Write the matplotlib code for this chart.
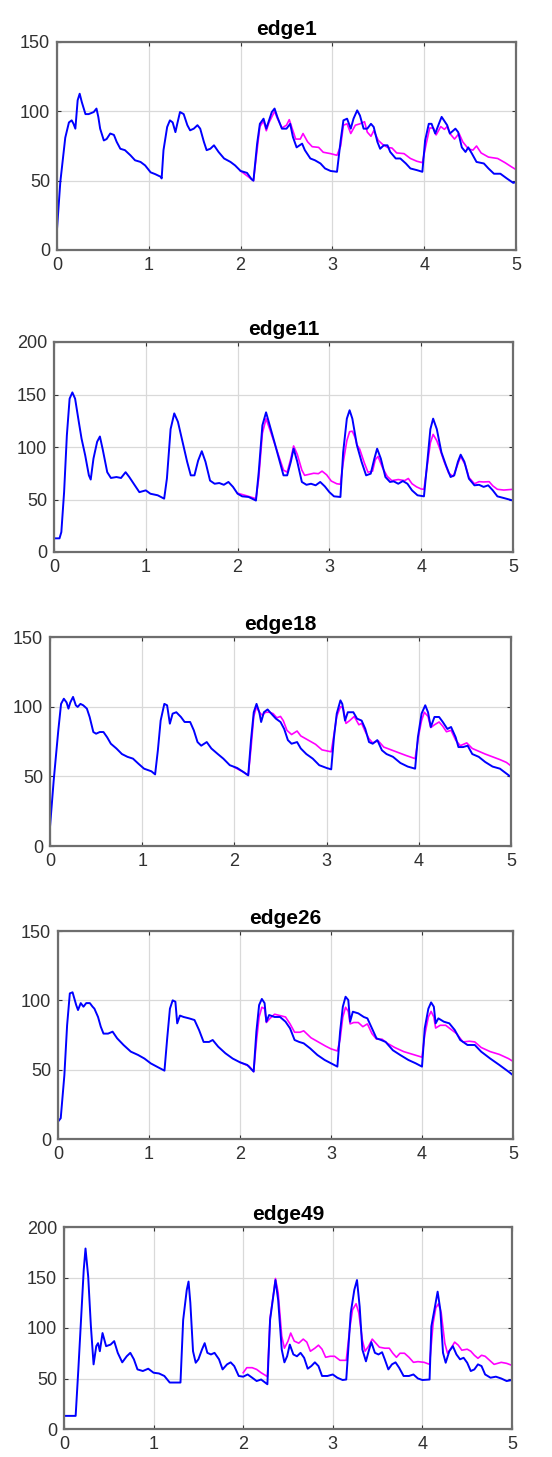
import matplotlib.pyplot as plt

plt.rcParams['font.family'] = ['Liberation Sans', 'DejaVu Sans']

# --- edge1 ---
e1_bx = [0, 0.036, 0.09, 0.13, 0.16, 0.18, 0.2, 0.225, 0.247, 0.27, 0.31, 0.345, 0.4, 0.43, 0.45, 0.47,
         0.51, 0.54, 0.58, 0.62, 0.65, 0.69, 0.74, 0.8, 0.85, 0.91, 0.96, 1.02, 1.07, 1.13, 1.14,
         1.16, 1.2, 1.23, 1.26, 1.29, 1.31, 1.34, 1.38, 1.42, 1.45, 1.49, 1.53, 1.56, 1.6, 1.63, 1.67,
         1.71, 1.76, 1.82, 1.89, 1.94, 2.0, 2.07, 2.12, 2.14,
         2.18, 2.21, 2.25, 2.28, 2.31, 2.34, 2.37, 2.4, 2.45, 2.5, 2.54, 2.57, 2.61, 2.67, 2.7, 2.76,
         2.81, 2.87, 2.92, 2.98, 3.05,
         3.09, 3.12, 3.16, 3.2, 3.23, 3.27, 3.3, 3.34, 3.38, 3.42, 3.45, 3.49, 3.52, 3.56, 3.6, 3.63,
         3.69, 3.74, 3.8, 3.85, 3.92, 3.98,
         4.01, 4.05, 4.08, 4.12, 4.16, 4.19, 4.25, 4.28, 4.34, 4.37, 4.41, 4.45, 4.48, 4.52, 4.57,
         4.65, 4.7, 4.76, 4.83, 4.9, 4.97, 5.0]
e1_by = [15, 49, 81, 92, 93.5, 91, 87.5, 108, 112.7, 106.7, 98, 98, 99.5, 102, 96, 87.5,
         79, 80, 84, 83, 78, 73, 72, 68.3, 64.7, 63.5, 61, 56, 54.7, 52.8, 51.6,
         72, 88.7, 93.5, 92, 85, 91, 99.5, 98, 90, 86.3, 87.5, 90, 87.5, 78, 72, 73,
         75.5, 70.7, 66, 63.5, 61, 57, 55.6, 51, 50,
         76.7, 91, 94.7, 87.5, 93.5, 99.5, 102, 96, 87.5, 87.5, 91, 81.5, 74, 76.7, 72, 66,
         64.7, 62.4, 58.8, 57, 56.4,
         79, 93.5, 94.7, 87.5, 94.7, 100.7, 97, 87.5, 87.5, 91, 88.7, 78, 73, 75.5, 75.5, 70.7,
         66, 66, 62.4, 58.8, 57.6, 56.4,
         79, 91, 91, 84, 91, 96, 90, 84, 87.5, 85, 74, 70.7, 74, 69.5, 63.5,
         62.4, 58.8, 55, 55, 51.6, 48.4, 49]
e1_mx = [2.0, 2.12, 2.14, 2.21, 2.25, 2.28, 2.31, 2.37, 2.4, 2.45, 2.5, 2.53, 2.57, 2.6, 2.65, 2.68,
         2.73, 2.78, 2.85, 2.9, 2.98, 3.05,
         3.09, 3.12, 3.16, 3.2, 3.25, 3.3, 3.35, 3.38, 3.42, 3.45, 3.5, 3.55, 3.6, 3.65, 3.7, 3.78,
         3.85, 3.92, 3.98,
         4.02, 4.06, 4.1, 4.13, 4.18, 4.22, 4.25, 4.28, 4.33, 4.38, 4.42, 4.48, 4.53, 4.57, 4.62,
         4.7, 4.8, 4.88, 4.95, 5.0]
e1_my = [57, 51, 50, 89, 93, 86, 92, 100, 95, 88, 90, 94, 86, 80, 80, 84,
         78, 74.5, 74, 70.5, 69.5, 68.3,
         75, 90, 91, 84, 90, 91, 92.5, 85, 82, 86, 79, 76, 74, 73.5, 70, 69.5,
         66, 64, 63,
         76, 88, 88, 83, 89, 87, 89, 84, 80, 84, 78, 73, 72, 75, 70,
         67, 66, 63, 60, 58]

# --- edge11 ---
e11_bx = [0, 0.06, 0.08, 0.11, 0.14, 0.17, 0.2, 0.23, 0.27, 0.3, 0.34, 0.38, 0.4, 0.43, 0.47, 0.5,
          0.53, 0.58, 0.62, 0.68, 0.73, 0.78, 0.82, 0.88, 0.93, 1.0, 1.05, 1.13, 1.2,
          1.23, 1.27, 1.31, 1.35, 1.4, 1.45, 1.49, 1.53, 1.57, 1.61, 1.65, 1.7, 1.75, 1.8, 1.85,
          1.9, 1.95, 2.0, 2.05, 2.12, 2.2,
          2.23, 2.27, 2.31, 2.35, 2.4, 2.45, 2.5, 2.54, 2.58, 2.61, 2.65, 2.7, 2.75, 2.8, 2.85,
          2.9, 2.95, 3.0, 3.05, 3.12,
          3.15, 3.19, 3.22, 3.25, 3.3, 3.35, 3.4, 3.45, 3.49, 3.52, 3.56, 3.61, 3.66, 3.7, 3.75,
          3.8, 3.85, 3.9, 3.96, 4.03,
          4.07, 4.1, 4.13, 4.17, 4.22, 4.27, 4.32, 4.36, 4.4, 4.43, 4.47, 4.52, 4.58, 4.63, 4.68,
          4.73, 4.78, 4.83, 4.9, 5.0]
e11_by = [13, 13, 19, 57, 111, 146, 152, 146, 124, 108, 92, 73, 69, 89, 105, 110,
          98, 76, 70.5, 71.4, 70.5, 76, 71.4, 63.5, 57, 58.7, 55.5, 54, 50.8,
          70, 117, 132, 124, 105, 86, 73, 73, 87, 96, 86, 68, 65, 65.7, 64,
          66.7, 62, 55.5, 53, 52.4, 49,
          76, 120.6, 133, 120.6, 105, 89, 73, 73, 86, 98.4, 86, 66.7, 64, 65, 63.5,
          66.7, 62.5, 57, 53, 52.4,
          95, 127, 135, 127, 101.6, 86, 73, 74.6, 89, 98.4, 89, 71.4, 66.7, 67.3, 65,
          67.6, 65, 58.7, 54, 53,
          89, 117, 127, 117, 95, 82.5, 71.4, 73, 86, 92.7, 86, 69.8, 63.5, 64, 62,
          63.5, 58.7, 53, 51.4, 49]
e11_mx = [2.0, 2.1, 2.2, 2.23, 2.27, 2.31, 2.35, 2.4, 2.45, 2.5, 2.54, 2.58, 2.61, 2.65, 2.7, 2.73,
          2.78, 2.83, 2.88, 2.92, 2.97, 3.02, 3.08, 3.12,
          3.15, 3.19, 3.22, 3.25, 3.28, 3.3, 3.33, 3.38, 3.42, 3.47, 3.5, 3.53, 3.58, 3.63, 3.68,
          3.75, 3.82, 3.86, 3.9, 3.95, 4.0, 4.03,
          4.07, 4.1, 4.13, 4.17, 4.2, 4.25, 4.3, 4.35, 4.4, 4.43, 4.48, 4.52, 4.58, 4.63, 4.68,
          4.74, 4.78, 4.83, 4.9, 5.0]
e11_my = [56, 53.5, 50.8, 70, 113, 127, 117, 104, 91, 78, 76, 89, 101, 93, 78, 73,
          74, 75, 74.6, 77, 73.5, 67.6, 65, 64.5,
          85, 106, 114.6, 115, 109, 102, 98, 85, 76, 77, 88, 91, 80, 72, 68,
          69, 68, 70, 65, 62, 60, 59.7,
          85, 104, 112, 106, 99, 86, 75, 72, 84, 91, 83, 71, 65, 67, 66.7,
          67, 63, 59.7, 59, 59.7]

# --- edge18 ---
e18_bx = [0, 0.04, 0.09, 0.12, 0.15, 0.18, 0.2, 0.22, 0.25, 0.28, 0.3, 0.33, 0.36, 0.4, 0.43, 0.47,
          0.5, 0.54, 0.58, 0.62, 0.66, 0.72, 0.78, 0.84, 0.9, 0.96, 1.02, 1.1, 1.14,
          1.17, 1.2, 1.24, 1.27, 1.3, 1.33, 1.37, 1.42, 1.46, 1.52, 1.56, 1.6, 1.64, 1.7, 1.75,
          1.82, 1.88, 1.95, 2.03, 2.1, 2.15,
          2.18, 2.21, 2.24, 2.27, 2.29, 2.32, 2.36, 2.4, 2.45, 2.5, 2.54, 2.58, 2.62, 2.68, 2.72,
          2.78, 2.85, 2.92, 3.0, 3.05,
          3.08, 3.11, 3.15, 3.17, 3.2, 3.23, 3.29, 3.33, 3.38, 3.42, 3.46, 3.5, 3.55, 3.6, 3.65,
          3.72, 3.8, 3.88, 3.96,
          3.99, 4.03, 4.07, 4.1, 4.13, 4.17, 4.22, 4.26, 4.31, 4.35, 4.4, 4.43, 4.48, 4.53, 4.58,
          4.65, 4.72, 4.8, 4.88, 4.95, 5.0]
e18_by = [13.6, 47, 83, 102, 105.7, 103, 98.6, 103, 107, 101, 99.8, 102, 101, 98.6, 92.6, 81.8,
          80.6, 81.8, 81.8, 78, 73.4, 70, 66, 64, 62.7, 59, 55.5, 53.6, 51.4,
          68.7, 90, 102, 101, 87.8, 95, 96, 92.6, 89, 89, 83, 74.6, 72, 74.6, 70,
          66, 62.7, 58, 56, 53, 50.7,
          76, 96, 102, 96, 89, 96, 98, 95, 91.4, 89, 84, 76, 73.4, 74.6, 70,
          66, 62.7, 58, 56, 55,
          78, 95, 104.5, 102, 90, 96, 96, 91.4, 90, 84, 74.6, 73.4, 76, 68.7, 66,
          64, 59.6, 57, 55.5,
          78, 95, 101, 96, 85.4, 92.6, 92.6, 89, 84, 85.4, 78, 71, 71, 72, 66,
          64, 60.3, 57, 55.5, 52, 49.5]
e18_mx = [2.0, 2.1, 2.15, 2.18, 2.21, 2.24, 2.27, 2.3, 2.34, 2.38, 2.42, 2.46, 2.5, 2.53, 2.57,
          2.62, 2.68, 2.72, 2.8, 2.88, 2.95, 3.05,
          3.08, 3.11, 3.15, 3.18, 3.21, 3.25, 3.3, 3.35, 3.38, 3.42, 3.46, 3.5, 3.56, 3.62, 3.7,
          3.78, 3.86, 3.96,
          4.0, 4.03, 4.06, 4.1, 4.13, 4.17, 4.22, 4.26, 4.3, 4.35, 4.4, 4.45, 4.52, 4.58, 4.65,
          4.72, 4.8, 4.88, 4.95, 5.0]
e18_my = [56.5, 53, 50.7, 70, 93, 100, 96, 94, 96, 96, 95, 92, 93, 90, 83,
          80, 82.5, 79, 76, 73, 69, 67.6,
          80, 93, 100, 99, 88, 90, 93, 87, 88, 82, 77, 74, 75.5, 71, 69,
          67, 65, 62.7,
          80, 90, 96, 93, 85, 87, 89, 86, 82, 83, 76, 72, 74, 70, 68,
          66, 64, 62, 60, 57.5]

# --- edge26 ---
e26_bx = [0, 0.03, 0.07, 0.1, 0.13, 0.16, 0.2, 0.22, 0.25, 0.28, 0.31, 0.35, 0.38, 0.4, 0.44, 0.47,
          0.5, 0.55, 0.6, 0.65, 0.72, 0.8, 0.88, 0.95, 1.02, 1.1, 1.17,
          1.2, 1.23, 1.26, 1.29, 1.31, 1.34, 1.38, 1.44, 1.5, 1.55, 1.6, 1.66, 1.7, 1.76, 1.84,
          1.92, 2.0, 2.08, 2.15,
          2.18, 2.21, 2.24, 2.27, 2.29, 2.32, 2.38, 2.44, 2.5, 2.55, 2.6, 2.65, 2.7, 2.77, 2.85,
          2.93, 3.0, 3.07,
          3.1, 3.13, 3.16, 3.19, 3.21, 3.24, 3.3, 3.36, 3.4, 3.45, 3.5, 3.55, 3.6, 3.68, 3.76,
          3.85, 3.93, 4.0,
          4.03, 4.07, 4.1, 4.13, 4.15, 4.18, 4.24, 4.3, 4.36, 4.42, 4.5, 4.58, 4.65, 4.75, 4.85,
          4.95, 5.0]
e26_by = [12.5, 15, 46, 82, 105, 105.8, 96.6, 93, 98, 95.4, 98, 98, 95.4, 94, 88, 81,
          76, 76, 77.4, 72.6, 67.8, 63, 60.6, 58, 54.5, 51.7, 49.3,
          72.6, 94, 100, 99, 83.4, 89, 88, 87, 85.8, 78.6, 70, 70, 71.4, 66.6, 61.8,
          58, 55.3, 53.4, 48.6,
          77.4, 96.6, 101, 98, 84.6, 89.4, 88, 88, 84.6, 79.8, 71.4, 70, 69, 65.4, 60.6,
          57, 54.6, 52.2,
          77.4, 95.4, 102.6, 100.2, 84.6, 91.8, 90.6, 88, 87, 79.8, 72.6, 71.4, 70, 64, 60.6,
          57, 54.6, 52.2,
          79.8, 94, 98.5, 95.4, 83.4, 87, 84.6, 83.4, 78.6, 71.4, 67.8, 67.8, 63, 58, 53.4,
          48.6, 46]
e26_mx = [2.0, 2.1, 2.15, 2.18, 2.21, 2.24, 2.27, 2.29, 2.33, 2.38, 2.44, 2.5, 2.55, 2.6, 2.66,
          2.7, 2.78, 2.86, 2.94, 3.0, 3.07,
          3.1, 3.13, 3.16, 3.19, 3.21, 3.25, 3.3, 3.35, 3.4, 3.45, 3.5, 3.56, 3.62, 3.7, 3.8,
          3.9, 4.0,
          4.03, 4.07, 4.1, 4.13, 4.15, 4.2, 4.26, 4.32, 4.38, 4.45, 4.52, 4.58, 4.65, 4.75, 4.85,
          4.95, 5.0]
e26_my = [55.3, 52.5, 48.6, 70, 88, 95, 94, 84, 87, 90, 89, 88, 83, 77, 77,
          78, 73, 70, 67, 65, 63.5,
          72, 88, 95, 92, 83, 84, 84, 81, 83, 76, 72, 72, 69, 66, 63,
          61, 59,
          75, 88, 92, 88, 80, 82, 82, 79, 76, 70, 70.5, 70, 66, 63, 61,
          58, 56]

# --- edge49 ---
e49_bx = [0, 0.13, 0.16, 0.19, 0.22, 0.24, 0.27, 0.3, 0.33, 0.36, 0.38, 0.4, 0.43, 0.47, 0.52,
          0.56, 0.6, 0.65, 0.7, 0.74, 0.78, 0.82, 0.88, 0.94, 1.0, 1.06, 1.12, 1.18, 1.3,
          1.33, 1.37, 1.39, 1.41, 1.44, 1.47, 1.5, 1.54, 1.57, 1.6, 1.64, 1.68, 1.73, 1.77, 1.82,
          1.86, 1.9, 1.95, 2.0, 2.05, 2.1, 2.15, 2.2, 2.27,
          2.3, 2.34, 2.36, 2.39, 2.43, 2.46, 2.49, 2.52, 2.56, 2.6, 2.64, 2.68, 2.72, 2.76, 2.8,
          2.84, 2.88, 2.94, 3.0, 3.05, 3.11, 3.15,
          3.2, 3.24, 3.27, 3.3, 3.33, 3.37, 3.4, 3.43, 3.47, 3.51, 3.55, 3.58, 3.62, 3.66, 3.7,
          3.74, 3.79, 3.85, 3.9, 3.95, 4.0, 4.08,
          4.1, 4.14, 4.17, 4.2, 4.23, 4.26, 4.3, 4.34, 4.38, 4.42, 4.46, 4.5, 4.54, 4.58, 4.62,
          4.66, 4.7, 4.76, 4.82, 4.88, 4.94, 5.0]
e49_by = [13, 13, 59, 108, 157.4, 178.7, 151, 102, 64, 82, 85, 77, 95, 82, 83.6,
          87, 75.4, 66, 72, 75.4, 69, 59, 57.4, 59.7, 55.7, 55, 52.5, 46, 46,
          108, 137.7, 146, 125, 77, 65.6, 69, 78.7, 85, 75.4, 73.8, 75.4, 69, 59, 64,
          66, 62.3, 52.5, 51.8, 54, 50.8, 47.5, 49, 44.3,
          108, 134.4, 147.5, 127.8, 78.7, 66, 72, 83.6, 73.8, 72, 75.4, 70.5, 59.7, 62.3, 66,
          62.3, 52.5, 52.5, 54, 50.8, 48.5, 49,
          114.8, 137.7, 147.5, 121, 78.7, 67, 77, 86, 75.4, 73.8, 76, 69, 59, 64, 66,
          60.7, 52.5, 52.5, 54, 50, 48.5, 49,
          101.6, 121, 136, 118, 75.4, 65.6, 77, 82, 73.8, 69, 70.5, 65.6, 57.4, 59, 64,
          62.3, 54, 50.8, 51.8, 50, 47.5, 48.5]
e49_mx = [2.0, 2.04, 2.1, 2.15, 2.2, 2.25, 2.27,
          2.3, 2.34, 2.36, 2.39, 2.43, 2.46, 2.5, 2.53, 2.57, 2.62, 2.67, 2.71, 2.75, 2.8, 2.84,
          2.88, 2.92, 2.97, 3.02, 3.08, 3.15,
          3.19, 3.22, 3.26, 3.29, 3.33, 3.36, 3.4, 3.44, 3.48, 3.52, 3.58, 3.63, 3.67, 3.71, 3.75,
          3.8, 3.85, 3.9, 3.95, 4.02, 4.08,
          4.12, 4.15, 4.18, 4.21, 4.25, 4.28, 4.32, 4.36, 4.4, 4.44, 4.5, 4.54, 4.58, 4.62, 4.66,
          4.7, 4.75, 4.8, 4.88, 4.94, 5.0]
e49_my = [55.7, 60.7, 60.7, 59, 55.7, 53, 51.8,
          110, 135, 149, 135, 92, 80, 87, 95, 87, 85, 89, 86, 77, 80, 83,
          79, 71, 72, 72, 68, 68,
          100, 118, 124, 115, 88, 77, 82, 89, 85, 81, 80, 80, 75, 71, 75,
          75, 71, 66, 66.7, 66, 64,
          105, 120, 124, 115, 85, 75, 80, 86, 83, 78, 79, 77, 73, 70, 73,
          72, 68, 64, 66, 65, 63]

titles = ["edge1", "edge11", "edge18", "edge26", "edge49"]
blue_x = [e1_bx, e11_bx, e18_bx, e26_bx, e49_bx]
blue_y = [e1_by, e11_by, e18_by, e26_by, e49_by]
mag_x = [e1_mx, e11_mx, e18_mx, e26_mx, e49_mx]
mag_y = [e1_my, e11_my, e18_my, e26_my, e49_my]
ymax = [150, 200, 150, 150, 200]

# axes boxes in pixels: left, right, top, bottom
boxes = [(57, 516, 42, 250), (54, 513, 342, 552), (50, 511, 637, 846),
         (58, 513, 931, 1139), (64, 512, 1227, 1429)]

W, H = 552, 1457
fig = plt.figure(figsize=(W / 100, H / 100), dpi=100)

for i in range(5):
    l, r, t, b = boxes[i]
    ax = fig.add_axes([l / W, 1 - b / H, (r - l) / W, (b - t) / H])
    ax.plot(mag_x[i], mag_y[i], color="#ff00ff", linewidth=1.2)
    ax.plot(blue_x[i], blue_y[i], color="#0000ff", linewidth=1.4)
    ax.set_xlim(0, 5)
    ax.set_ylim(0, ymax[i])
    ax.set_xticks(range(6))
    ax.set_yticks(range(0, ymax[i] + 1, 50))
    ax.grid(True, color="#d9d9d9", linewidth=0.9)
    ax.set_axisbelow(True)
    ax.tick_params(direction="in", length=3, width=0.8, color="#333333",
                   labelsize=13, labelcolor="#303030", top=True, right=True, pad=5)
    for s in ax.spines.values():
        s.set_color("#6e6e6e")
        s.set_linewidth(1.6)
    ax.set_title(titles[i], fontsize=15, fontweight="bold", pad=5)

fig.savefig("out.png", dpi=100)
